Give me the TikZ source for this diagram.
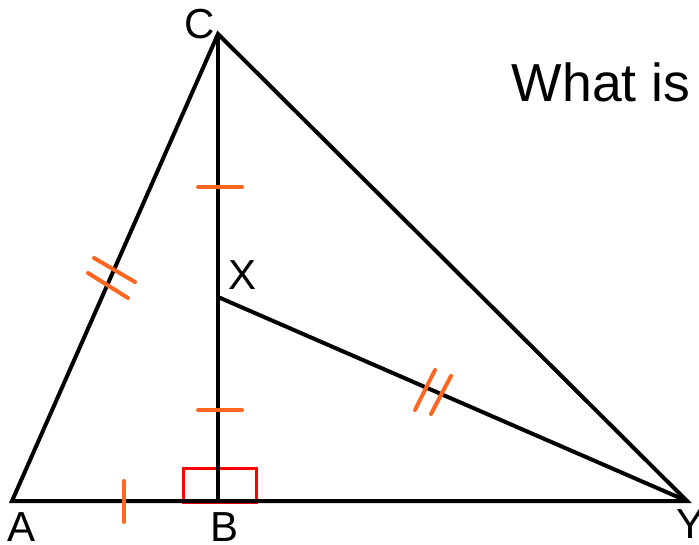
\documentclass[tikz,border=0pt]{standalone}
\usepackage{fontspec}
\setmainfont{Liberation Sans}
\definecolor{tickorange}{RGB}{255,102,34}
\tikzset{
    mark tick/.style={tickorange, line width=4pt, line cap=round},
    vlabel/.style={inner sep=0pt, font=\fontsize{42}{42}\selectfont}
}
\begin{document}
\begin{tikzpicture}[x=1pt, y=-1pt, line width=4pt]
    \useasboundingbox (0,0) rectangle (699,545);
    \coordinate (A) at (12,501);
    \coordinate (B) at (218,501);
    \coordinate (C) at (218,34);
    \coordinate (X) at (218,297);
    \coordinate (Y) at (687,501);
    % 直角标记
    \draw[red, line width=3pt] (183,502) rectangle (256,468);
    % 三角形 ACY 与线段 CB、XY
    \draw (A) -- (Y) -- (C) -- cycle;
    \draw (C) -- (B);
    \draw (X) -- (Y);
    % 等长记号
    \draw[mark tick] (198,187) -- (242,187);
    \draw[mark tick] (198,410) -- (242,410);
    \draw[mark tick] (124,481) -- (124,522);
    \draw[mark tick] (94,258) -- (135,282);
    \draw[mark tick] (88,273) -- (128,298);
    \draw[mark tick] (435,370) -- (415,410);
    \draw[mark tick] (451,376) -- (431,414);
    % 顶点字母
    \node[vlabel] (lblC) at (200,24) {C};
    \node[vlabel] (lblX) at (243,275) {X};
    \node[vlabel] (lblA) at (22,527) {A};
    \node[vlabel] (lblB) at (225,527) {B};
    \node[vlabel] (lblY) at (690,524) {Y};
    \node[inner sep=0pt, font=\fontsize{53.5}{53.5}\selectfont] (ask) at (601,82.5) {What is};
\end{tikzpicture}
\end{document}
